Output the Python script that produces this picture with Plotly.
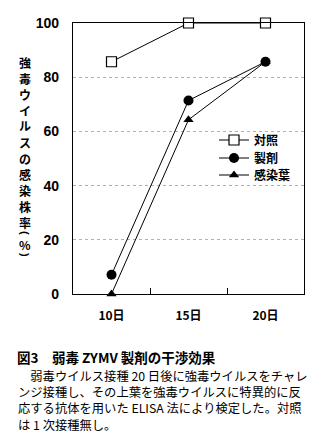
import plotly.graph_objects as go

# Days after challenge inoculation
days = ["10日", "15日", "20日"]
# Infection rate of the virulent virus (%)
control = [85.7, 100.0, 100.0]
preparation = [7.1, 71.4, 85.7]
infected_leaf = [0.0, 64.3, 85.7]

series_names = ["対照", "製剤", "感染葉"]
y_ticks = [0, 20, 40, 60, 80, 100]

# Vertical axis title, written top to bottom
y_title_chars = list("強毒ウイルスの感染株率") + ["(", "%", ")"]
caption_title = "図3　弱毒 ZYMV 製剤の干渉効果"
caption_lines = [
    "　弱毒ウイルス接種 20 日後に強毒ウイルスをチャレ",
    "ンジ接種し、その上葉を強毒ウイルスに特異的に反",
    "応する抗体を用いた ELISA 法により検定した。対照",
    "は 1 次接種無し。",
]

W, H = 332, 440
ML, MR, MT, MB = 73, 28, 23, 146
PW, PH = W - ML - MR, H - MT - MB

JP = "Noto Sans CJK JP"
NUM = "Liberation Sans"


def px(xp):
    return (xp - ML) / PW


def py(yp):
    return (H - MB - yp) / PH


fig = go.Figure()
styles = [
    dict(symbol="square", size=10, color="white", line=dict(width=1.2, color="black")),
    dict(symbol="circle", size=10, color="black", line=dict(width=0)),
    dict(symbol="triangle-up", size=9, color="black", line=dict(width=0)),
]
legend_ids = ["legend", "legend2", "legend3"]
legend_rows = [140, 158, 175]
for name, vals, mk, lg in zip(series_names, [control, preparation, infected_leaf], styles, legend_ids):
    fig.add_trace(go.Scatter(
        x=days, y=vals, name=name, mode="lines+markers",
        line=dict(color="black", width=1),
        marker=mk, cliponaxis=False, legend=lg,
    ))

legend_style = dict(
    xanchor="left", yanchor="middle",
    bgcolor="rgba(0,0,0,0)", borderwidth=0,
    font=dict(family=JP, size=12, color="black", weight="bold"),
    itemwidth=30,
)
fig.update_layout(
    width=W, height=H,
    margin=dict(l=ML, r=MR, t=MT, b=MB, pad=0),
    paper_bgcolor="white", plot_bgcolor="white",
    showlegend=True,
    font=dict(family=JP, color="black"),
    **{lg: dict(legend_style, x=px(214), y=py(row)) for lg, row in zip(legend_ids, legend_rows)},
)

fig.update_xaxes(
    type="category", range=[-0.5, 2.5],
    showline=True, linecolor="black", linewidth=1.2, mirror=True,
    ticks="inside", tickson="boundaries", ticklen=6, tickcolor="black",
    tickfont=dict(family=JP, size=12, color="black", weight="bold"),
    ticklabelstandoff=10,
    showgrid=False, zeroline=False,
)
fig.update_yaxes(
    range=[0, 100], tickvals=y_ticks,
    showline=True, linecolor="black", linewidth=1.2, mirror=True,
    ticks="", tickfont=dict(family=NUM, size=14, color="black", weight="bold"),
    ticklabelstandoff=10,
    showgrid=True, gridcolor="#b0b0b0", gridwidth=1, griddash="dot",
    zeroline=False,
)

# Axis title characters placed one below another; brackets turned sideways
title_y = [62 + 16 * i for i in range(11)] + [233, 244, 255]
for ch, yp in zip(y_title_chars, title_y):
    is_bracket = ch in "()"
    fig.add_annotation(
        x=px(25), y=py(yp), xref="paper", yref="paper",
        text=ch, showarrow=False, borderpad=0,
        textangle=90 if is_bracket else 0,
        font=dict(family=NUM if is_bracket else JP, size=12 if not is_bracket else 11,
                  color="black", weight="bold"),
        xanchor="center", yanchor="middle",
    )

# Caption under the chart
fig.add_annotation(
    x=px(16), y=py(357), xref="paper", yref="paper",
    text=caption_title, showarrow=False, borderpad=0,
    font=dict(family=JP, size=13.5, color="black", weight="bold"),
    xanchor="left", yanchor="middle",
)
for i, line in enumerate(caption_lines):
    fig.add_annotation(
        x=px(17), y=py(376 + i * 16.2), xref="paper", yref="paper",
        text=line, showarrow=False, borderpad=0,
        font=dict(family=JP, size=12.3, color="black"),
        xanchor="left", yanchor="middle",
    )

fig.write_html("out.html")
